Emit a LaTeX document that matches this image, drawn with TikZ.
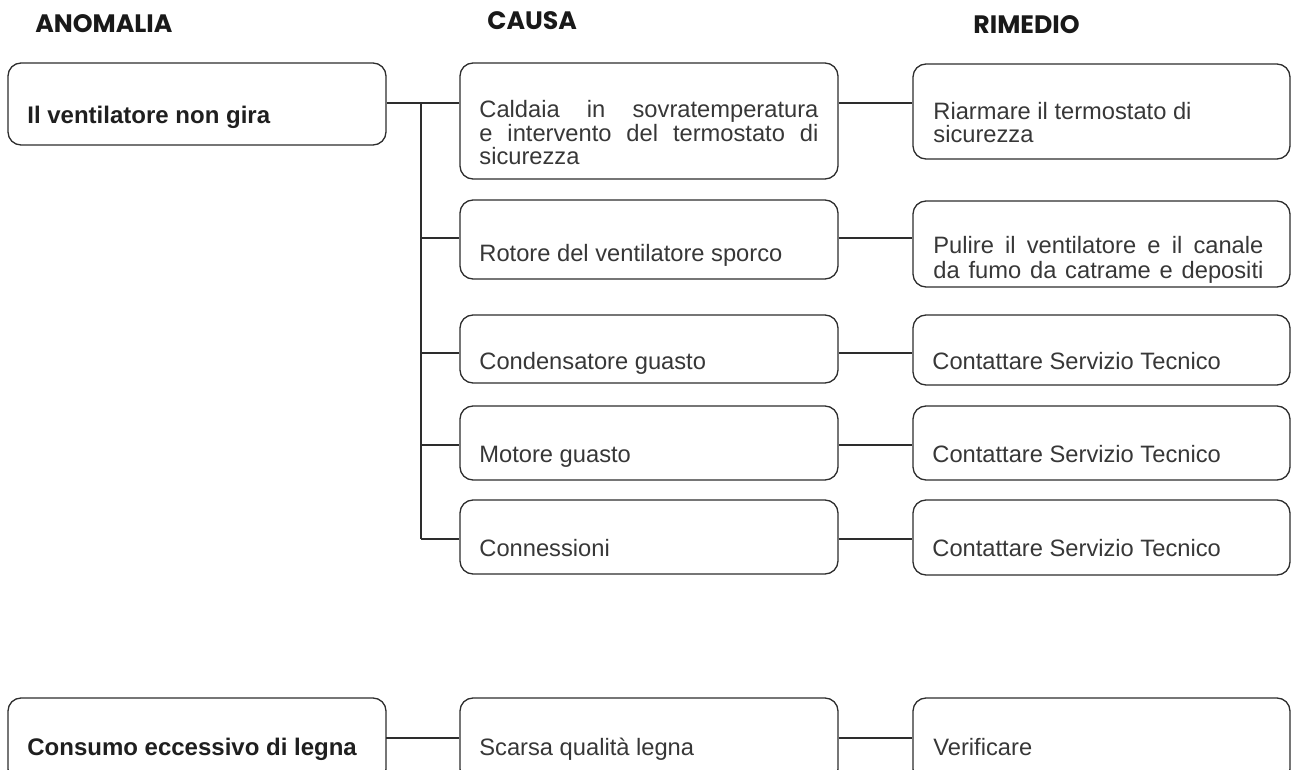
\documentclass[tikz,border=0pt]{standalone}
\usepackage{fontspec}
\setmainfont{Liberation Sans}
\newfontfamily\headfont{Poppins}
\usetikzlibrary{fit,calc}
\definecolor{FrameGray}{RGB}{45,45,45}
\definecolor{TextGray}{RGB}{55,55,55}
\newcommand{\spreadline}[2]{\makebox[#1][s]{#2}}

\begin{document}
\begin{tikzpicture}[x=0.5pt,y=-0.5pt,
		box/.style={draw=FrameGray,line width=0.65pt,rounded corners=6.5pt,inner sep=0pt},
		cell/.style={anchor=base west,inner sep=0pt,text=TextGray,font=\fontsize{11.85}{14}\selectfont},
		boldcell/.style={cell,text=black!88,font=\fontsize{12}{14}\selectfont\bfseries},
		head/.style={anchor=base west,inner sep=0pt,text=black!90,font=\headfont\fontsize{12.6}{14}\selectfont\bfseries},
		link/.style={draw=FrameGray,line width=0.65pt}]
	\clip (0,0) rectangle (1292,770);
	\node[head] (hA) at (35,33) {ANOMALIA};
	\node[head] (hC) at (487,30) {CAUSA};
	\node[head] (hR) at (973,34) {RIMEDIO};
	\node[box,fit={(8,63)(386,145)}] (a1) {};
	\node[box,fit={(460,63)(838,179)}] (c1) {};
	\node[box,fit={(913,64)(1290,159)}] (r1) {};
	\node[box,fit={(460,200)(838,279)}] (c2) {};
	\node[box,fit={(913,201)(1290,287)}] (r2) {};
	\node[box,fit={(460,315)(838,383)}] (c3) {};
	\node[box,fit={(913,315)(1290,385)}] (r3) {};
	\node[box,fit={(460,406)(838,480)}] (c4) {};
	\node[box,fit={(913,406)(1290,480)}] (r4) {};
	\node[box,fit={(460,500)(838,574)}] (c5) {};
	\node[box,fit={(913,500)(1290,575)}] (r5) {};
	\node[box,fit={(8,698)(386,782)}] (a2) {};
	\node[box,fit={(460,698)(838,782)}] (c6) {};
	\node[box,fit={(913,698)(1290,782)}] (r6) {};
	\node[boldcell] (ta1) at (27,124) {Il ventilatore non gira};
	\node[cell] (tc1) at (479,118) {\spreadline{169.5pt}{Caldaia in sovratemperatura}};
	\node[cell] (tc1b) at (479,142) {\spreadline{169.5pt}{e intervento del termostato di}};
	\node[cell] (tc1c) at (479,165) {sicurezza};
	\node[cell] (tr1) at (933,120) {Riarmare il termostato di};
	\node[cell] (tr1b) at (933,143) {sicurezza};
	\node[cell] (tc2) at (479,262) {Rotore del ventilatore sporco};
	\node[cell] (tr2) at (933,254) {\spreadline{165pt}{Pulire il ventilatore e il canale}};
	\node[cell] (tr2b) at (933,279) {\spreadline{165pt}{da fumo da catrame e depositi}};
	\node[cell] (tc3) at (479,370) {Condensatore guasto};
	\node[cell] (tr3) at (932,370) {Contattare Servizio Tecnico};
	\node[cell] (tc4) at (479,463) {Motore guasto};
	\node[cell] (tr4) at (932,463) {Contattare Servizio Tecnico};
	\node[cell] (tc5) at (479,557) {Connessioni};
	\node[cell] (tr5) at (932,557) {Contattare Servizio Tecnico};
	\node[boldcell] (ta2) at (27,755) {Consumo eccessivo di legna};
	\node[cell] (tc6) at (479,755) {Scarsa qualità legna};
	\node[cell] (tr6) at (933,755) {Verificare};
	\coordinate (j1) at (421,103);
	\coordinate (j2) at (421,238);
	\coordinate (j3) at (421,353);
	\coordinate (j4) at (421,445);
	\coordinate (j5) at (421,539);
	\coordinate (j6) at (386,738);
	\draw[link] (a1.east |- j1) -- (c1.west |- j1);
	\draw[link] (j1) -- (j5);
	\foreach \k in {2,...,5}
		\draw[link] (j\k) -- (j\k -| c\k.west);
	\foreach \k in {1,...,5}
		\draw[link] (c\k.east |- j\k) -- (r\k.west |- j\k);
	\draw[link] (j6) -- (j6 -| c6.west);
	\draw[link] (c6.east |- j6) -- (r6.west |- j6);
\end{tikzpicture}
\end{document}
